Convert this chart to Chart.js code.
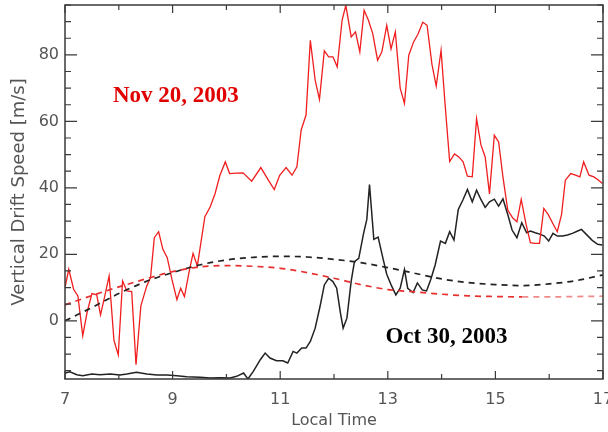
<!DOCTYPE html>
<html>
<head>
<meta charset="utf-8">
<script src="https://cdn.jsdelivr.net/npm/chart.js@4.4.0/dist/chart.umd.min.js"></script>
<style>
  html, body { margin: 0; padding: 0; background: #fff; overflow: hidden; width: 608px; height: 432px; }
  canvas { display: block; }
</style>
</head>
<body>
<canvas id="c" width="620" height="432" style="width:620px;height:432px"></canvas>
<script>
// ---- Data ----
const xTickLabels = [7, 9, 11, 13, 15, 17];
const yTickLabels = [0, 20, 40, 60, 80];

// Nov 20, 2003 (red solid)
const novTime = [7.00, 7.07, 7.16, 7.24, 7.33, 7.41, 7.50, 7.59, 7.66, 7.74, 7.82, 7.91, 7.99, 8.07, 8.15, 8.24, 8.32, 8.41, 8.52, 8.59, 8.66, 8.74, 8.82, 8.90, 8.99, 9.08, 9.15, 9.22, 9.31, 9.38, 9.46, 9.60, 9.70, 9.79, 9.88, 9.98, 10.06, 10.18, 10.31, 10.47, 10.64, 10.78, 10.89, 10.99, 11.11, 11.22, 11.31, 11.39, 11.48, 11.56, 11.65, 11.73, 11.82, 11.90, 11.98, 12.06, 12.15, 12.22, 12.32, 12.40, 12.48, 12.56, 12.64, 12.72, 12.81, 12.89, 12.98, 13.06, 13.14, 13.23, 13.31, 13.39, 13.48, 13.56, 13.65, 13.73, 13.82, 13.90, 13.99, 14.07, 14.15, 14.24, 14.32, 14.40, 14.48, 14.57, 14.65, 14.73, 14.81, 14.89, 14.98, 15.06, 15.14, 15.23, 15.32, 15.40, 15.48, 15.57, 15.65, 15.73, 15.82, 15.90, 15.98, 16.06, 16.15, 16.23, 16.30, 16.40, 16.49, 16.57, 16.64, 16.74, 16.83, 16.90, 16.99];
const novSpeed = [10, 15.5, 9.5, 7.5, -4.5, 2.5, 8.2, 7.8, 1.8, 7.5, 13.5, -5.9, -10.2, 12, 9, 8.8, -13.2, 4.5, 10.5, 13, 25, 26.8, 21.5, 19, 12.3, 6.4, 9.8, 7.3, 15, 20.3, 16.5, 31.3, 34.3, 38.3, 43.8, 47.8, 44.3, 44.4, 44.5, 42, 46.1, 42.3, 39.5, 43.8, 46.1, 43.8, 46.3, 57.4, 61.9, 84.4, 72.4, 66.6, 81.2, 79.4, 79.4, 76.4, 90.4, 94.9, 85.4, 86.9, 80.9, 93.4, 90.4, 86.4, 78.4, 80.9, 88.9, 81.8, 86.9, 70, 65.4, 79.9, 83.9, 86.2, 89.8, 88.9, 77.2, 70.6, 81.4, 64, 47.9, 50.2, 49.3, 47.8, 43.5, 43.3, 60.8, 53, 49.3, 38.2, 55.8, 53.8, 43.3, 33.3, 31, 29.8, 36.5, 29, 23.5, 23.3, 23.3, 33.8, 32, 29.5, 26.8, 32, 42.3, 44.3, 43.8, 43.3, 47.8, 43.8, 43.3, 42.5, 41.3];

// Oct 30, 2003 (black solid)
const octTime = [7.00, 7.09, 7.22, 7.33, 7.50, 7.65, 7.84, 8.02, 8.15, 8.33, 8.52, 8.71, 8.89, 9.08, 9.26, 9.51, 9.70, 9.88, 10.07, 10.19, 10.32, 10.40, 10.50, 10.63, 10.72, 10.81, 10.93, 11.05, 11.14, 11.24, 11.31, 11.40, 11.48, 11.56, 11.65, 11.74, 11.82, 11.90, 11.98, 12.05, 12.12, 12.17, 12.24, 12.32, 12.38, 12.46, 12.55, 12.61, 12.66, 12.74, 12.82, 12.91, 12.98, 13.07, 13.15, 13.23, 13.31, 13.37, 13.47, 13.55, 13.64, 13.72, 13.80, 13.88, 13.98, 14.07, 14.15, 14.23, 14.31, 14.40, 14.48, 14.57, 14.65, 14.73, 14.81, 14.89, 14.98, 15.06, 15.14, 15.23, 15.31, 15.40, 15.49, 15.58, 15.65, 15.74, 15.84, 15.91, 15.99, 16.07, 16.15, 16.25, 16.34, 16.43, 16.53, 16.60, 16.69, 16.80, 16.90, 16.99];
const octSpeed = [-15.7, -15.3, -16.2, -16.5, -16, -16.2, -16, -16.3, -16, -15.5, -16, -16.3, -16.3, -16.5, -16.8, -17, -17.2, -17.1, -17.2, -16.7, -15.7, -17.5, -15.2, -11.7, -9.7, -11.2, -12, -12, -12.7, -9.2, -9.7, -8.2, -8.2, -6.2, -2.2, 4.3, 10.8, 12.8, 11.8, 9.8, 2.3, -2.2, 0.8, 12, 17.8, 18.8, 26.3, 30.5, 41, 24.5, 25.2, 18.8, 14, 10.5, 7.8, 9.8, 15.4, 9.8, 8.5, 11.4, 9.3, 9.0, 12.5, 16.8, 24, 23.3, 26.8, 24.3, 33.5, 36.5, 39.5, 35.8, 39.3, 36.5, 34.1, 35.8, 36.6, 34.5, 36.7, 32, 27.3, 25, 29.5, 26.5, 27, 26.5, 26, 25.5, 24, 26.3, 25.5, 25.5, 25.8, 26.3, 27, 27.5, 26, 24.2, 23, 22.8];

// Model curves (dashed)
const modelTime = [7, 7.5, 8, 8.5, 9, 9.5, 10, 10.5, 11, 11.5, 12, 12.5, 13, 13.5, 14, 14.5, 15, 15.5, 16, 16.5, 17];
const octModel = [0, 4, 8.2, 11.8, 14.5, 16.8, 18.3, 19.1, 19.4, 19.2, 18.5, 17.5, 16.0, 14.3, 12.6, 11.5, 10.9, 10.6, 11.1, 12.1, 13.8];
const novModel = [4.8, 7.6, 10.2, 12.6, 14.8, 16.2, 16.6, 16.4, 15.8, 14.5, 12.8, 10.9, 9.4, 8.7, 8.0, 7.5, 7.3, 7.2, 7.2, 7.3, 7.4];

const toPts = (xs, ys) => xs.map((t, i) => ({ x: t, y: ys[i] }));

const RED = '#f01e1e';
const DARK = '#222222';

const framePlugin = {
  id: 'frame',
  afterDatasetsDraw(chart) {
    const { ctx, chartArea: a, scales: { x, y } } = chart;
    ctx.save();
    ctx.strokeStyle = '#3a3a3a';
    ctx.lineWidth = 1.5;
    ctx.strokeRect(a.left, a.top, a.right - a.left, a.bottom - a.top);
    ctx.lineWidth = 1.2;
    ctx.beginPath();
    for (let t = Math.ceil(x.min); t <= x.max; t += 1) {
      const px = x.getPixelForValue(t);
      const len = xTickLabels.includes(t) ? 8 : 5;
      ctx.moveTo(px, a.bottom); ctx.lineTo(px, a.bottom - len);
      ctx.moveTo(px, a.top); ctx.lineTo(px, a.top + len);
    }
    for (let v = -15; v <= y.max; v += 5) {
      const py = y.getPixelForValue(v);
      const len = yTickLabels.includes(v) ? 12 : 6;
      ctx.moveTo(a.left, py); ctx.lineTo(a.left + len, py);
      ctx.moveTo(a.right, py); ctx.lineTo(a.right - len, py);
    }
    ctx.stroke();

    // annotations
    ctx.textAlign = 'center';
    ctx.textBaseline = 'alphabetic';
    ctx.font = 'bold 23px "Liberation Serif", "Times New Roman", serif';
    ctx.fillStyle = '#e00000';
    ctx.fillText('Nov 20, 2003', x.getPixelForValue(9.06), y.getPixelForValue(65.8));
    ctx.fillStyle = '#000000';
    ctx.fillText('Oct 30, 2003', x.getPixelForValue(14.09), y.getPixelForValue(-6.7));
    ctx.restore();
  }
};

const fontSans = { family: '"DejaVu Sans", sans-serif', size: 16 };

new Chart(document.getElementById('c'), {
  type: 'line',
  data: {
    datasets: [
      { data: toPts(modelTime, novModel), borderColor: '#e83030', borderWidth: 1.7, borderDash: [6, 5], pointRadius: 0, cubicInterpolationMode: 'monotone', fill: false,
        segment: { borderColor: ctx => ctx.p0.parsed.x >= 15.5 ? '#f08a8a' : '#e83030' } },
      { data: toPts(modelTime, octModel), borderColor: DARK, borderWidth: 1.7, borderDash: [6, 5], pointRadius: 0, cubicInterpolationMode: 'monotone', fill: false },
      { data: toPts(novTime, novSpeed), borderColor: RED, borderWidth: 1.3, pointRadius: 0, tension: 0, fill: false },
      { data: toPts(octTime, octSpeed), borderColor: DARK, borderWidth: 1.5, pointRadius: 0, tension: 0, fill: false }
    ]
  },
  options: {
    responsive: false,
    animation: false,
    events: [],
    layout: { padding: { top: 5, right: 17, left: 0, bottom: 0 } },
    plugins: { legend: { display: false }, tooltip: { enabled: false } },
    scales: {
      x: {
        type: 'linear', min: 7, max: 17,
        afterBuildTicks: s => { s.ticks = xTickLabels.map(v => ({ value: v })); },
        afterFit: s => { s.height = 53; s.paddingLeft = 0; s.paddingRight = 0; },
        grid: { display: false, drawTicks: false },
        border: { display: false },
        ticks: { padding: 11, color: '#555', font: fontSans, maxRotation: 0, autoSkip: false },
        title: { display: true, text: 'Local Time', color: '#555', font: fontSans, padding: { top: 0, bottom: 2 } }
      },
      y: {
        type: 'linear', min: -17.5, max: 95,
        afterBuildTicks: s => { s.ticks = yTickLabels.map(v => ({ value: v })); },
        afterFit: s => { s.width = 65; s.paddingTop = 0; s.paddingBottom = 0; },
        grid: { display: false, drawTicks: false },
        border: { display: false },
        ticks: { padding: 6, color: '#555', font: fontSans },
        title: { display: true, text: 'Vertical Drift Speed [m/s]', color: '#555', font: { family: '"DejaVu Sans", sans-serif', size: 18 }, padding: { top: 9, bottom: 0 } }
      }
    }
  },
  plugins: [framePlugin]
});
</script>
</body>
</html>
